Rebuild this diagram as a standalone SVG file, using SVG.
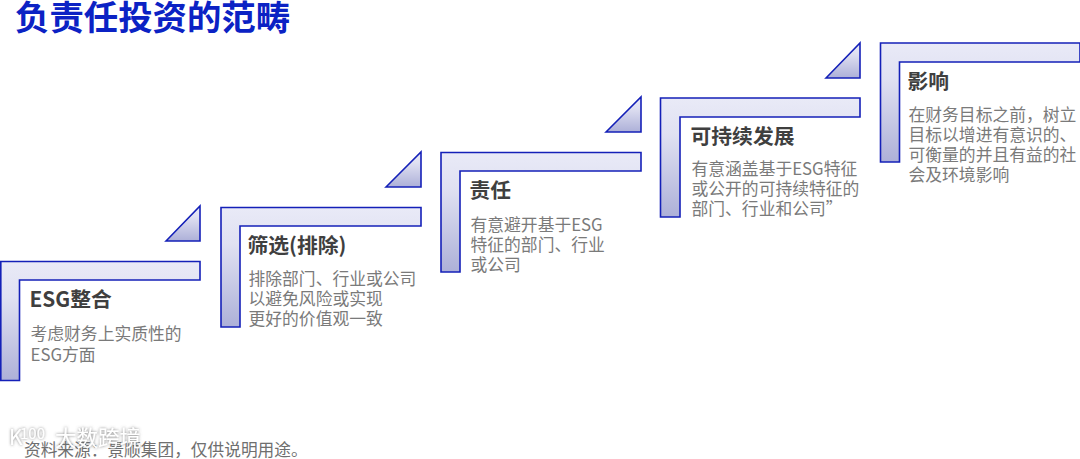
<svg xmlns="http://www.w3.org/2000/svg" width="1080" height="459" viewBox="0 0 1080 459">
<style>
text{font-family:"Noto Sans CJK SC","Noto Sans",sans-serif}
.s{fill:url(#g);stroke:#1420b8;stroke-width:1.6}
.h{font-size:20.800px;font-weight:700;fill:#3f3f3f}
.b{font-size:16.800px;fill:#7a7a7a}
.t{font-size:34.400px;font-weight:700;fill:#0b22c4}
.f{font-size:16.700px;fill:#6f6f6f}
.w{fill:#fff;filter:url(#sh)}
</style>
<defs>
<linearGradient id="g" x1="0" y1="0" x2="0" y2="1"><stop offset="0" stop-color="#e9eaf7"/><stop offset=".3" stop-color="#e0e1f2"/><stop offset="1" stop-color="#adb0d8"/></linearGradient>
<filter id="sh" x="-20%" y="-40%" width="140%" height="180%"><feDropShadow dx="0" dy="0" stdDeviation="1.500" flood-color="#666" flood-opacity=".85"/></filter>
</defs>
<text class="t" x="15" y="30">负责任投资的范畴</text>
<g id="step1">
<path class="s" d="M166 241L200 206V241Z"/>
<path class="s" d="M0.800 261.500H200V280H19.500V380.500H0.800Z"/>
<text class="h" x="29.500" y="307">ESG整合</text>
<text class="b" x="30.500" y="340">考虑财务上实质性的</text>
<text class="b" x="30.500" y="361">ESG方面</text>
</g>
<g id="step2">
<path class="s" d="M386 187L421 152V187Z"/>
<path class="s" d="M221 207.500H421V226H240V327H221Z"/>
<text class="h" x="247.500" y="253">筛选(排除)</text>
<text class="b" x="248.500" y="285">排除部门、行业或公司</text>
<text class="b" x="248.500" y="305">以避免风险或实现</text>
<text class="b" x="248.500" y="325">更好的价值观一致</text>
</g>
<g id="step3">
<path class="s" d="M606 132L641 97V132Z"/>
<path class="s" d="M441 152.500H641V171H460V272H441Z"/>
<text class="h" x="469.500" y="198">责任</text>
<text class="b" x="470.500" y="231">有意避开基于ESG</text>
<text class="b" x="470.500" y="251">特征的部门、行业</text>
<text class="b" x="470.500" y="271">或公司</text>
</g>
<g id="step4">
<path class="s" d="M826 78L860 43V78Z"/>
<path class="s" d="M660.500 98H860V117H680V217H660.500Z"/>
<text class="h" x="690.500" y="144">可持续发展</text>
<text class="b" x="691.500" y="175">有意涵盖基于ESG特征</text>
<text class="b" x="691.500" y="195">或公开的可持续特征的</text>
<text class="b" x="691.500" y="215">部门、行业和公司”</text>
</g>
<g id="step5">
<path class="s" d="M880.500 43H1080V62H899.500V162H880.500Z"/>
<text class="h" x="907.500" y="89">影响</text>
<text class="b" x="908.500" y="121">在财务目标之前，树立</text>
<text class="b" x="908.500" y="141">目标以增进有意识的、</text>
<text class="b" x="908.500" y="161">可衡量的并且有益的社</text>
<text class="b" x="908.500" y="181">会及环境影响</text>
</g>
<text class="f" x="24" y="456">资料来源：景顺集团，仅供说明用途。</text>
<text class="w" x="9" y="445" font-size="21">K</text>
<text class="w" x="20" y="439" font-size="15">100</text>
<text class="w" x="55" y="446" font-size="21.500">大数跨境</text>
</svg>
